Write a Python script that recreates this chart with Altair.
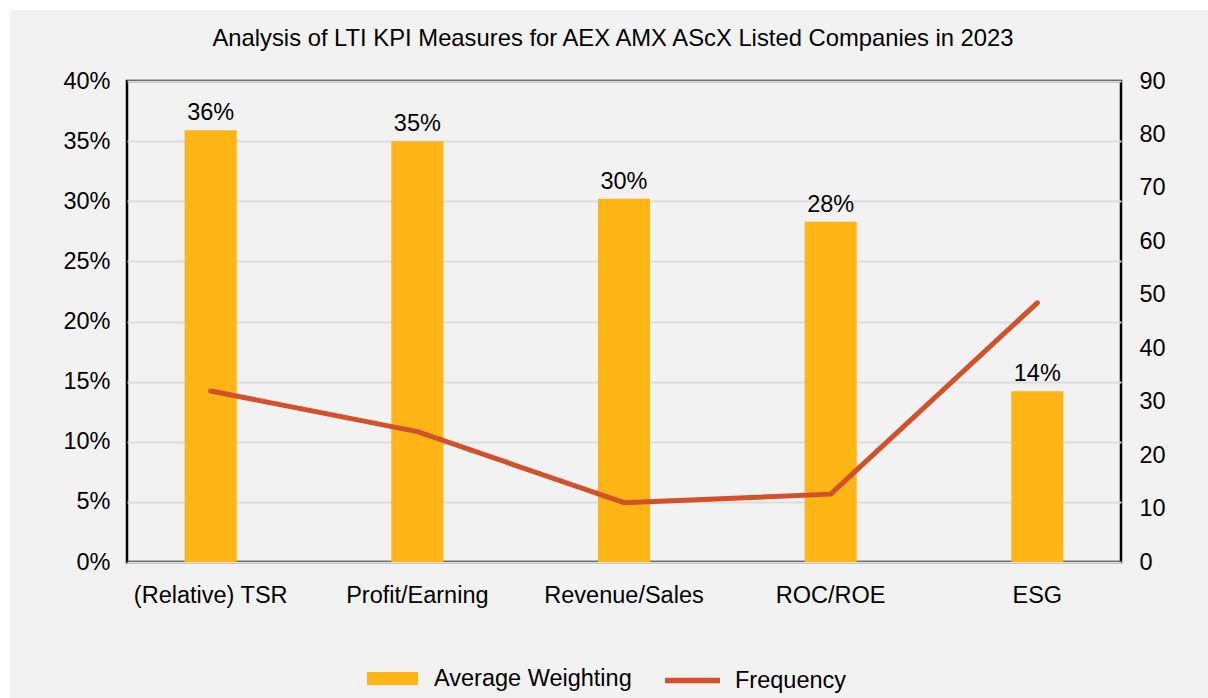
import altair as alt
import pandas as pd

# Chart data
categories = ["(Relative) TSR", "Profit/Earning", "Revenue/Sales", "ROC/ROE", "ESG"]
avg_weighting = [0.359, 0.350, 0.302, 0.283, 0.142]
frequency = [32.0, 24.4, 11.1, 12.7, 48.5]
weight_ticks = [0, 0.05, 0.10, 0.15, 0.20, 0.25, 0.30, 0.35, 0.40]
freq_ticks = [0, 10, 20, 30, 40, 50, 60, 70, 80, 90]

df = pd.DataFrame({
    "category": categories,
    "weighting": avg_weighting,
    "frequency": frequency,
    "s1": "Average Weighting",
    "s2": "Frequency",
})

FONT = "Liberation Sans"
YELLOW = "#FFB515"
ORANGE = "#D2502A"
PANEL = "#F2F2F2"
W, H = 994, 481
PAD = {"left": 127, "top": 81, "right": 87, "bottom": 136}

base = alt.Chart(df)

x_enc = alt.X(
    "category:N",
    sort=categories,
    title=None,
    scale=alt.Scale(paddingInner=0.748, paddingOuter=0.279),
    axis=alt.Axis(labelAngle=0, labelFontSize=23.5, labelFont=FONT, labelColor="black",
                  labelPadding=21, ticks=False, domain=False, labelLimit=400),
)

y_left = alt.Y(
    "weighting:Q",
    title=None,
    scale=alt.Scale(domain=[0, 0.40], nice=False),
    axis=alt.Axis(values=weight_ticks, format=".0%", grid=True, gridColor="#DCDCDC",
                  gridWidth=2, ticks=False, domain=False, labelFontSize=23.5,
                  labelFont=FONT, labelColor="black", labelPadding=17),
)

bars = base.mark_bar(color=YELLOW).encode(
    x=x_enc,
    y=y_left,
    fill=alt.Fill(
        "s1:N",
        scale=alt.Scale(range=[YELLOW]),
        legend=alt.Legend(
            title=None, orient="none", legendX=240, legendY=572,
            symbolType="M-1,-0.255H1V0.255H-1Z", symbolSize=2601,
            symbolStrokeWidth=0, labelOffset=16, labelFontSize=23.5,
            labelFont=FONT, labelColor="black", labelLimit=400,
        ),
    ),
)

labels = base.mark_text(dy=-10, baseline="alphabetic", fontSize=23.5, font=FONT,
                        color="black").encode(
    x=x_enc,
    y=y_left,
    text=alt.Text("weighting:Q", format=".0%"),
)

# thin white margin along the left and top edges of the panel
edge = alt.Chart(pd.DataFrame({"k": [0]}))
left_edge = edge.mark_rule(color="white", strokeWidth=10).encode(
    x=alt.value(-PAD["left"] + 5), y=alt.value(-PAD["top"]), y2=alt.value(H + PAD["bottom"])
)
top_edge = edge.mark_rule(color="white", strokeWidth=10).encode(
    y=alt.value(-PAD["top"] + 5), x=alt.value(-PAD["left"]), x2=alt.value(W + PAD["right"])
)

line = base.mark_line(color=ORANGE, strokeWidth=5, strokeCap="round", strokeJoin="round").encode(
    x=x_enc,
    y=alt.Y(
        "frequency:Q",
        title=None,
        scale=alt.Scale(domain=[0, 90], nice=False),
        axis=alt.Axis(orient="right", values=freq_ticks, grid=False, ticks=False,
                      domain=False, labelFontSize=23.5, labelFont=FONT,
                      labelColor="black", labelPadding=18),
    ),
    stroke=alt.Stroke(
        "s2:N",
        scale=alt.Scale(range=[ORANGE]),
        legend=alt.Legend(
            title=None, orient="none", legendX=535, legendY=569,
            symbolType="stroke", symbolSize=3025, symbolStrokeWidth=5.5,
            labelOffset=12, labelFontSize=23.5, labelFont=FONT, labelColor="black",
            labelLimit=400,
        ),
    ),
)

left_layer = alt.layer(left_edge, top_edge, bars, labels)

chart = (
    alt.layer(left_layer, line)
    .resolve_scale(y="independent")
    .properties(
        width=W,
        height=H,
        padding=PAD,
        autosize=alt.AutoSizeParams(type="none"),
        background=PANEL,
        title=alt.TitleParams(
            "Analysis of LTI KPI Measures for AEX AMX AScX Listed Companies in 2023",
            font=FONT, fontSize=23.8, fontWeight="normal", color="black",
            anchor="middle", dx=-11, offset=0, baseline="alphabetic", dy=75,
        ),
    )
    .configure_view(stroke="black", strokeWidth=2.5)
)

chart.save("out.html", embed_options={"renderer": "svg", "actions": False})
